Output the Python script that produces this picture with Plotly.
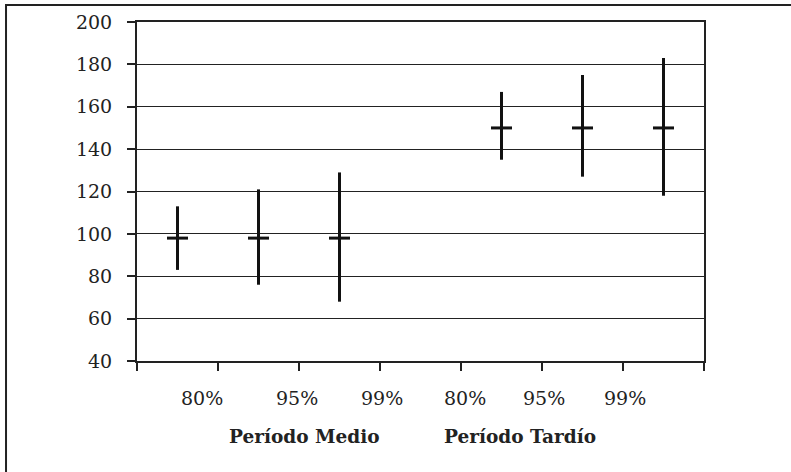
import plotly.graph_objects as go

# ---- data ----
levels = ["80%", "95%", "99%", "80%", "95%", "99%"]
groups = ["Período Medio", "Período Tardío"]
slots = [0, 1, 2, 4, 5, 6]          # category slot of each interval (slot 3 is empty)
centers = [98, 98, 98, 150, 150, 150]
lower = [83, 76, 68, 135, 127, 118]
upper = [113, 121, 129, 167, 175, 183]
y_ticks = [40, 60, 80, 100, 120, 140, 160, 180, 200]

# label placement (category-axis units / paper units)
level_label_x = [0.30, 1.47, 2.52, 3.55, 4.52, 5.53]
group_label_x = [1.57, 4.23]

INK = "#111111"
FONT = "DejaVu Serif"

fig = go.Figure()
fig.add_trace(go.Scatter(
    x=slots, y=centers, mode="markers",
    marker=dict(symbol="line-ew", size=15, line=dict(width=3, color=INK), color=INK),
    error_y=dict(type="data", symmetric=False,
                 array=[u - c for u, c in zip(upper, centers)],
                 arrayminus=[c - l for l, c in zip(lower, centers)],
                 thickness=3, width=0, color=INK),
    showlegend=False, hoverinfo="skip",
))

for lab, xp in zip(levels, level_label_x):
    fig.add_annotation(x=xp, y=-0.108, xref="x", yref="paper", text=lab,
                       showarrow=False, xanchor="center", yanchor="middle",
                       font=dict(family=FONT, size=19, color="#222"))
for lab, xp in zip(groups, group_label_x):
    fig.add_annotation(x=xp, y=-0.223, xref="x", yref="paper", text="<b>" + lab + "</b>",
                       showarrow=False, xanchor="center", yanchor="middle",
                       font=dict(family=FONT, size=18.5, color="#222"))

# outer frame (top and left edges visible)
fig.add_shape(type="rect", xref="paper", yref="paper",
              x0=-0.231, x1=1.3, y0=-0.5, y1=1.05,
              line=dict(color="#222", width=2), layer="below")

fig.update_layout(
    width=791, height=472,
    margin=dict(l=137, r=87, t=22, b=111),
    paper_bgcolor="white", plot_bgcolor="white",
    font=dict(family=FONT, size=19, color="#222"),
    xaxis=dict(range=[-0.5, 6.5], tickmode="array",
               tickvals=[i - 0.5 for i in range(8)], showticklabels=False,
               ticks="outside", ticklen=8, tickwidth=2, tickcolor="#222",
               showline=True, linecolor="#222", linewidth=2, mirror=True,
               showgrid=False, zeroline=False),
    yaxis=dict(range=[40, 200], tickmode="array", tickvals=y_ticks,
               ticks="outside", ticklen=8, tickwidth=2, tickcolor="#222",
               ticklabelstandoff=11,
               tickfont=dict(family=FONT, size=19, color="#222"),
               showline=True, linecolor="#222", linewidth=2, mirror=True,
               showgrid=True, gridcolor="#222", gridwidth=1.4, zeroline=False),
)

fig.write_html("out.html", config={"displayModeBar": False},
               post_script="document.body.style.margin='0';document.body.style.overflow='hidden';")
